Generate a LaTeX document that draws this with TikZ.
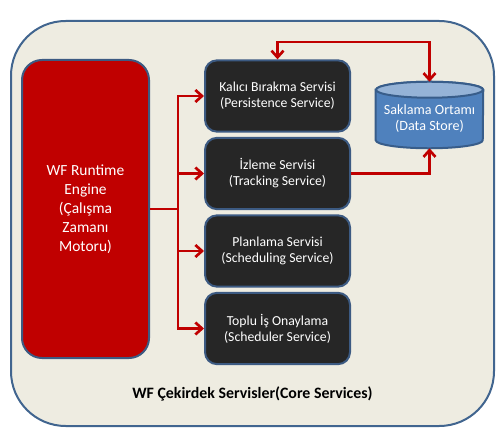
\documentclass[tikz,border=0pt]{standalone}
\usepackage{fontspec}
\setmainfont{Carlito}
\usetikzlibrary{arrows.meta}
\definecolor{bgbeige}{HTML}{EEECE1}
\definecolor{outerblue}{HTML}{41658F}
\definecolor{wfred}{HTML}{C00000}
\definecolor{darkbox}{HTML}{262626}
\definecolor{boxborder}{HTML}{3C5A82}
\definecolor{cylbody}{HTML}{4F81BD}
\definecolor{cyltop}{HTML}{95B3D7}
\definecolor{cylborder}{HTML}{385D8A}
\tikzset{
  outerbox/.style={draw=outerblue, line width=1.5pt, fill=bgbeige, rounded corners=41pt,
    minimum width=362.25pt, minimum height=303.75pt, inner sep=0pt},
  enginebox/.style={draw=boxborder, line width=1.5pt, fill=wfred, rounded corners=15pt,
    minimum width=95.25pt, minimum height=223.5pt, text=white, align=center,
    font=\fontsize{11.6pt}{14.25pt}\selectfont},
  svcbox/.style={draw=boxborder, line width=1.5pt, fill=darkbox, rounded corners=9pt,
    minimum width=108.75pt, minimum height=53.5pt, text=white, align=center,
    font=\fontsize{10.3pt}{12pt}\selectfont},
  storebox/.style={minimum width=80.25pt, minimum height=49.5pt, inner sep=0pt},
  conn/.style={draw=wfred, line width=2pt},
  arr/.style={conn, -{Straight Barb[length=5pt,width=9pt]}},
  biarr/.style={conn, {Straight Barb[length=5pt,width=9pt]}-{Straight Barb[length=5pt,width=9pt]}}
}
\begin{document}
\begin{tikzpicture}[x=0.75pt,y=-0.75pt]
\useasboundingbox (0,0) rectangle (504,435);
\node[outerbox] (outer) at (252.5,223.5) {};
\node[font=\bfseries\fontsize{11.9pt}{14pt}\selectfont] (title) at (252.5,394) {WF Çekirdek Servisler(Core Services)};

\node[enginebox] (rt) at (85.5,209) {WF Runtime\\Engine\\(Çalışma\\Zamanı\\Motoru)};

\node[svcbox] (b1) at (277.5,96) {Kalıcı Bırakma Servisi\\(Persistence Service)};
\node[svcbox] (b2) at (277.5,173.5) {İzleme Servisi\\(Tracking Service)};
\node[svcbox] (b3) at (277.5,251) {Planlama Servisi\\(Scheduling Service)};
\node[svcbox] (b4) at (277.5,328.5) {Toplu İş Onaylama\\(Scheduler Service)};

% data store cylinder
\node[storebox] (ds) at (429.5,115) {};
\fill[cylbody, draw=cylborder, line width=1.5pt]
  ([yshift=-6pt]ds.north west) -- ([yshift=6pt]ds.south west)
  arc[start angle=180, end angle=360, x radius=40.125pt, y radius=6pt]
  -- ([yshift=-6pt]ds.north east)
  arc[start angle=0, end angle=180, x radius=40.125pt, y radius=6pt] -- cycle;
\filldraw[fill=cyltop, draw=cylborder, line width=1.5pt]
  ([yshift=-6pt]ds.north) ellipse[x radius=40.125pt, y radius=6pt];
\node[text=white, align=center, font=\fontsize{10.6pt}{12pt}\selectfont] (dstext) at (429.5,119) {Saklama Ortamı\\(Data Store)};

% connectors
\coordinate (trunk) at (178,209);
\coordinate (ylevel) at (300,42);
\draw[conn] (rt.east) -- (trunk);
\draw[arr] (trunk) |- (b1.west);
\draw[arr] (trunk) |- (b2.west);
\draw[arr] (trunk) |- (b3.west);
\draw[arr] (trunk) |- (b4.west);
\draw[biarr] (b1.north) -- (b1.north |- ylevel) -| (ds.north);
\draw[arr] (b2.east) -| (ds.south);
\end{tikzpicture}
\end{document}
